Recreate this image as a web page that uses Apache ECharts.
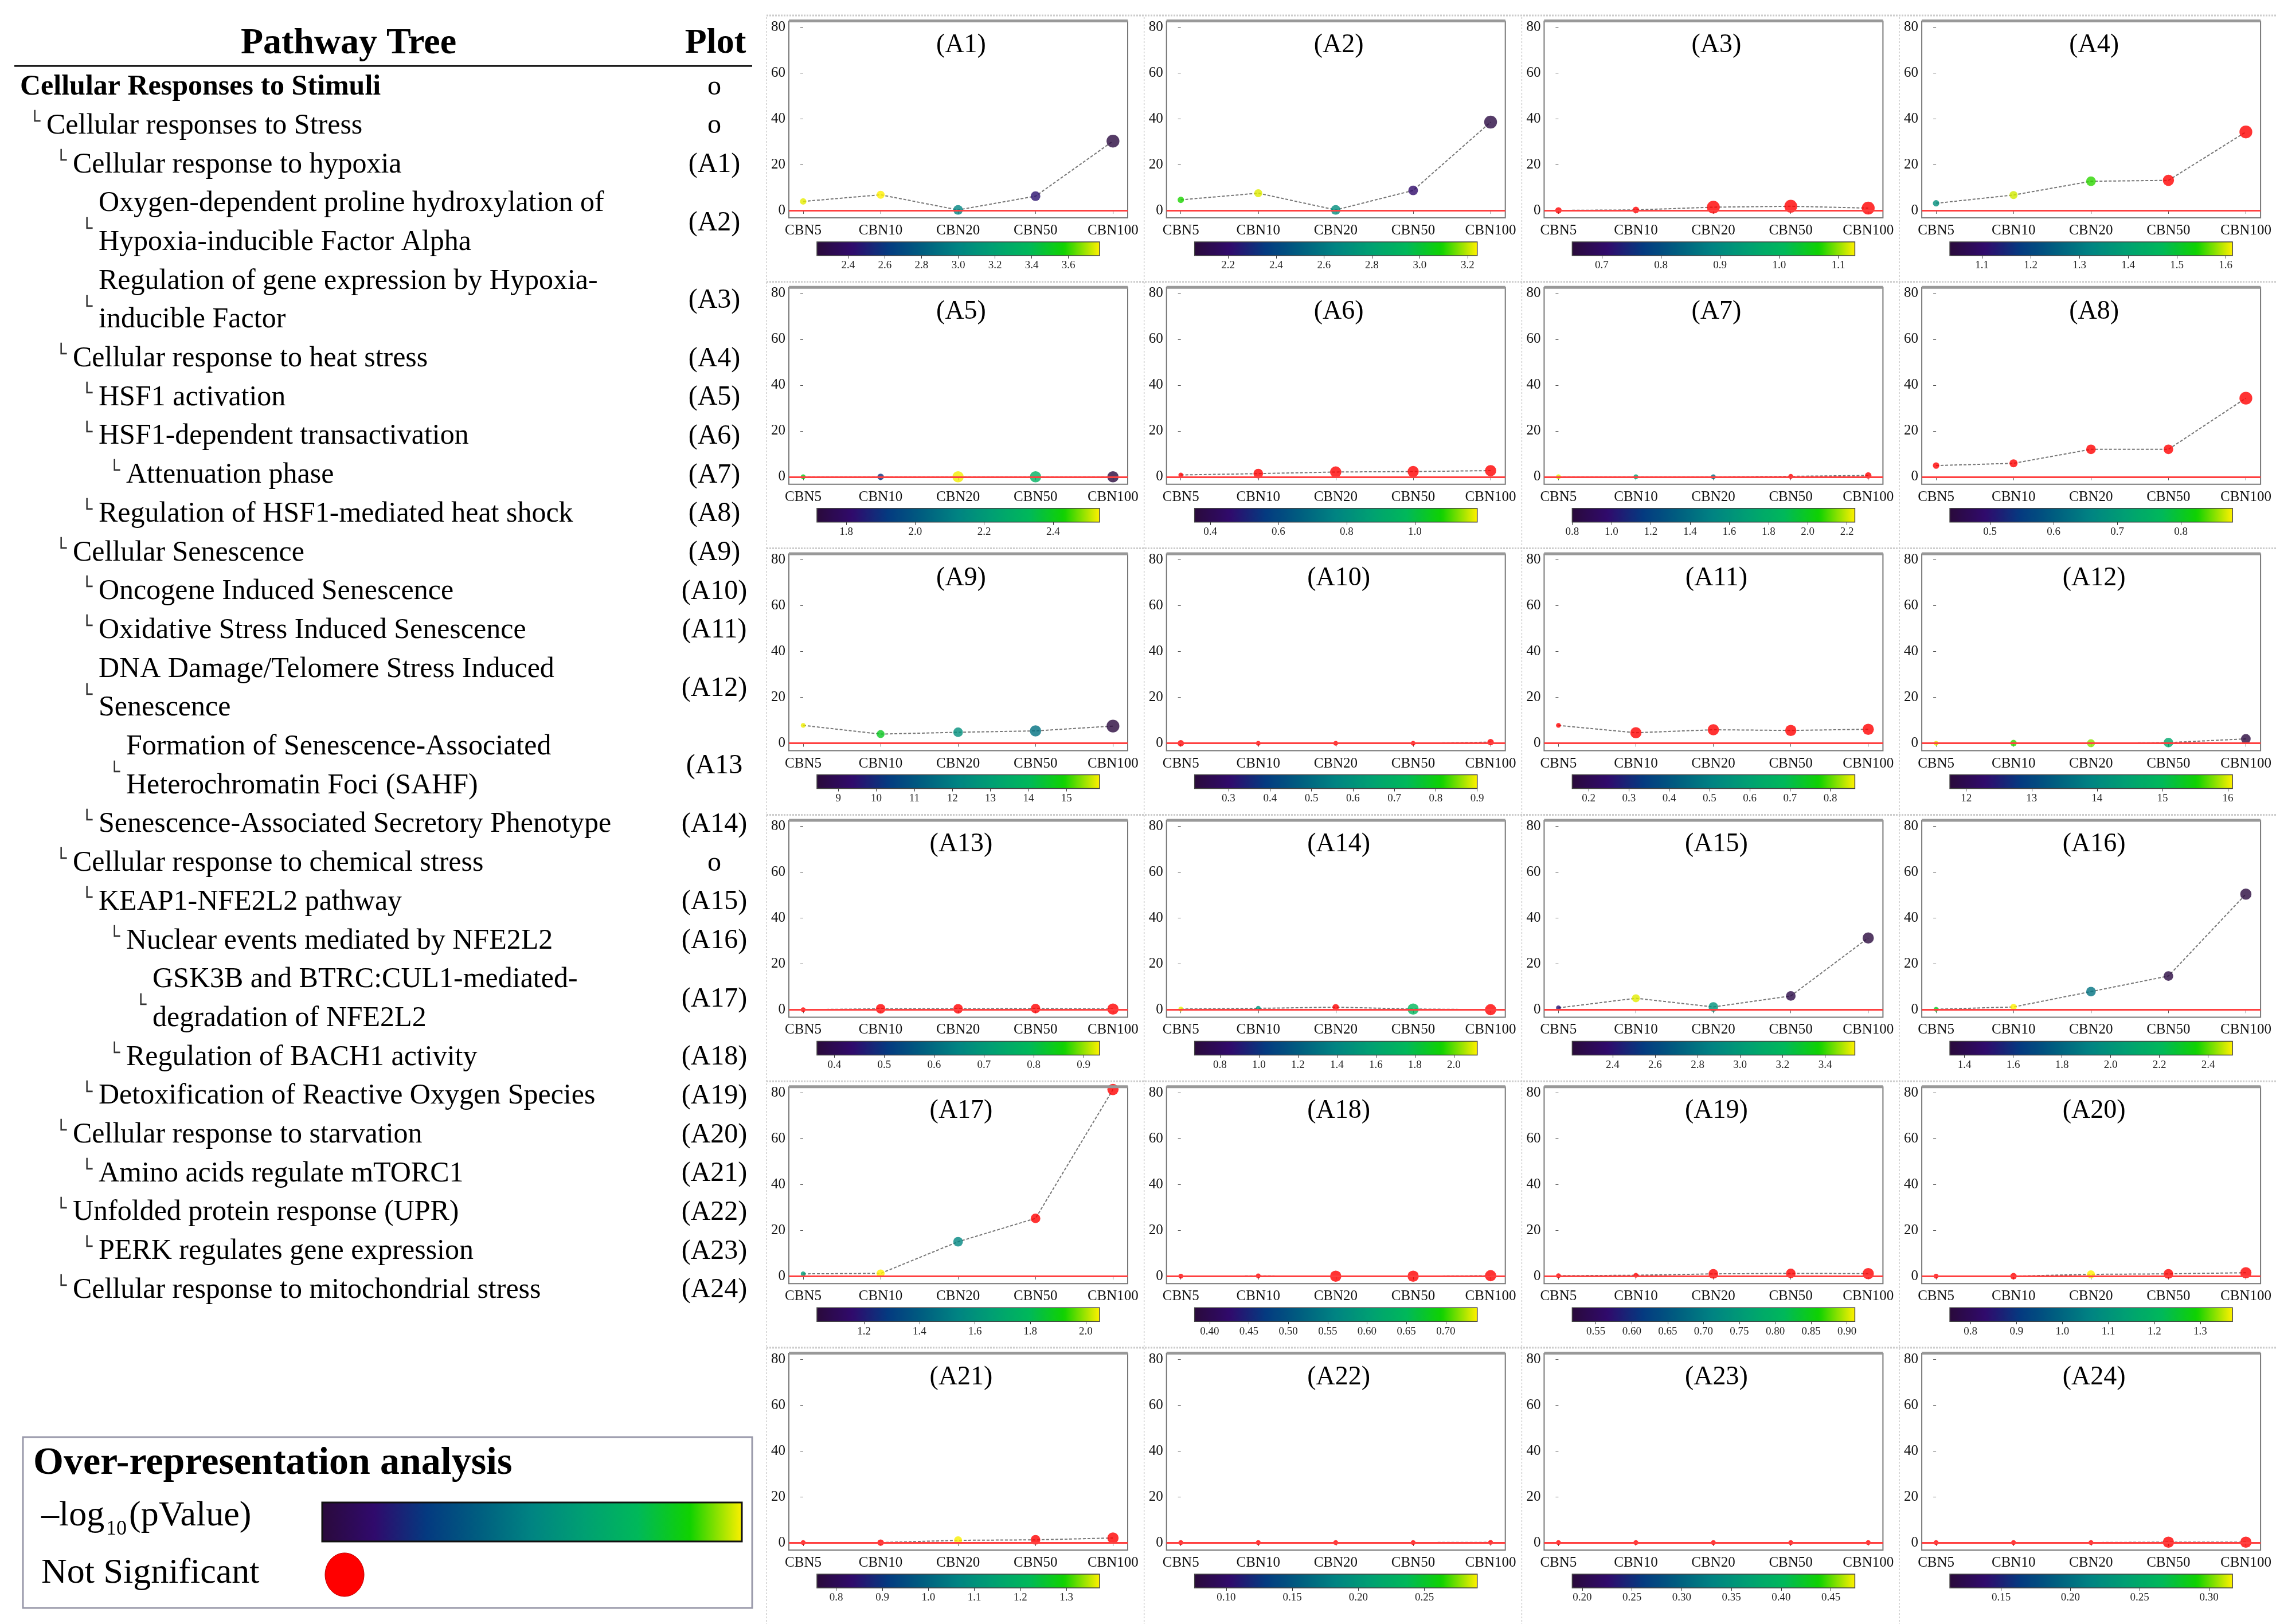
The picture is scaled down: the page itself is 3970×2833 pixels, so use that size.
<!DOCTYPE html>
<html><head><meta charset="utf-8">
<script src="https://cdn.jsdelivr.net/npm/echarts@6/dist/echarts.min.js"></script>
<style>html,body{margin:0;padding:0;background:#fff}#c{width:3970px;height:2833px}</style>
</head><body><div id="c"></div>
<script>
const categories = ['CBN5','CBN10','CBN20','CBN50','CBN100'];
const plotTitles = ['(A1)','(A2)','(A3)','(A4)','(A5)','(A6)','(A7)','(A8)','(A9)','(A10)','(A11)','(A12)',
  '(A13)','(A14)','(A15)','(A16)','(A17)','(A18)','(A19)','(A20)','(A21)','(A22)','(A23)','(A24)'];
const yTickValues = [0,20,40,60,80];
// y values per plot (CBN5..CBN100)
const yValues = [
  [3.9,6.8,0.2,6.2,30.2],[4.6,7.5,0.2,8.7,38.5],[0,0.2,1.4,1.8,1.0],[3.1,6.7,12.7,13.1,34.2],
  [0,0,0,0,0],[0.8,1.4,2.1,2.3,2.7],[0,0,0,0.2,0.6],[4.9,5.9,12,12,34.3],
  [7.8,4.0,4.8,5.4,7.5],[0,0,0,0,0.5],[7.8,4.6,5.9,5.6,6.1],[0,0.1,0,0.3,1.9],
  [0,0.4,0.4,0.5,0.3],[0.3,0.6,1.1,0.3,0],[0.8,5.0,1.2,6.0,31.3],[0.2,1.2,7.9,14.7,50.4],
  [1.0,1.2,15.0,25.2,81.4],[0,0.1,0,0,0.2],[0.2,0.4,1.0,1.2,1.1],[0,0,0.8,1.0,1.5],
  [0,0,1.0,1.2,2.0],[0,0,0,0,0.1],[0,0,0,0,0],[0,0,0,0.2,0.2]
];
// -log10(pValue) per point; null = not significant
const pValues = [
  [3.75,3.77,3.0,2.45,2.25],[3.1,3.22,2.7,2.2,2.08],[null,null,null,null,null],[1.35,1.6,1.55,null,null],
  [2.4,1.9,2.53,2.3,1.72],[null,null,null,null,null],[2.22,1.7,1.4,null,null],[null,null,null,null,null],
  [15.8,14.6,12.5,11.7,8.5],[null,null,null,null,null],[null,null,null,null,null],[16.0,15.6,15.8,14.6,11.8],
  [null,null,null,null,null],[2.1,1.5,null,1.75,null],[2.4,3.52,2.95,2.25,2.22],[2.3,2.5,1.85,1.36,1.35],
  [1.65,2.05,1.55,null,null],[null,null,null,null,null],[null,null,null,null,null],[null,null,1.37,null,null],
  [null,null,1.37,null,null],[null,null,null,null,null],[null,null,null,null,null],[null,null,null,null,null]
];
const pointSizes = [
  [8,10,12,12,16],[8,10,12,12,16],[8,8,16,16,16],[8,10,12,14,16],
  [6,8,14,14,14],[6,12,14,14,14],[6,6,6,6,8],[8,10,12,12,16],
  [6,10,12,14,16],[8,6,6,6,8],[6,14,14,14,14],[6,8,10,12,12],
  [6,12,12,12,14],[6,6,8,14,14],[6,10,12,12,14],[6,8,12,12,14],
  [6,10,12,12,14],[6,6,14,14,14],[6,6,12,12,14],[6,8,10,12,14],
  [6,8,10,12,14],[6,6,6,6,6],[6,6,6,6,6],[6,6,6,14,14]
];
const colorbarMin = [2.23,2.06,0.65,1.034,1.715,0.354,0.8,0.437,8.44,0.218,0.159,11.75,
  0.365,0.67,2.21,1.34,1.03,0.381,0.517,0.755,0.758,0.076,0.19,0.113];
const colorbarMax = [3.77,3.24,1.128,1.614,2.535,1.183,2.24,0.881,15.87,0.9,0.861,16.07,
  0.932,2.12,3.54,2.5,2.05,0.74,0.911,1.37,1.372,0.29,0.474,0.317];
const colorbarTicks = [
  [2.4,2.6,2.8,3.0,3.2,3.4,3.6],[2.2,2.4,2.6,2.8,3.0,3.2],[0.7,0.8,0.9,1.0,1.1],[1.1,1.2,1.3,1.4,1.5,1.6],
  [1.8,2.0,2.2,2.4],[0.4,0.6,0.8,1.0],[0.8,1.0,1.2,1.4,1.6,1.8,2.0,2.2],[0.5,0.6,0.7,0.8],
  [9,10,11,12,13,14,15],[0.3,0.4,0.5,0.6,0.7,0.8,0.9],[0.2,0.3,0.4,0.5,0.6,0.7,0.8],[12,13,14,15,16],
  [0.4,0.5,0.6,0.7,0.8,0.9],[0.8,1.0,1.2,1.4,1.6,1.8,2.0],[2.4,2.6,2.8,3.0,3.2,3.4],[1.4,1.6,1.8,2.0,2.2,2.4],
  [1.2,1.4,1.6,1.8,2.0],[0.40,0.45,0.50,0.55,0.60,0.65,0.70],[0.55,0.60,0.65,0.70,0.75,0.80,0.85,0.90],[0.8,0.9,1.0,1.1,1.2,1.3],
  [0.8,0.9,1.0,1.1,1.2,1.3],[0.10,0.15,0.20,0.25],[0.20,0.25,0.30,0.35,0.40,0.45],[0.15,0.20,0.25,0.30]
];
const colorbarDecimals = [1,1,1,1,1,1,1,1,0,1,1,0,1,1,1,1,1,2,2,1,1,2,2,2];
const treeLabels = [
  ['Cellular Responses to Stimuli'],['Cellular responses to Stress'],['Cellular response to hypoxia'],
  ['Oxygen-dependent proline hydroxylation of','Hypoxia-inducible Factor Alpha'],
  ['Regulation of gene expression by Hypoxia-','inducible Factor'],
  ['Cellular response to heat stress'],['HSF1 activation'],['HSF1-dependent transactivation'],['Attenuation phase'],
  ['Regulation of HSF1-mediated heat shock'],['Cellular Senescence'],['Oncogene Induced Senescence'],
  ['Oxidative Stress Induced Senescence'],['DNA Damage/Telomere Stress Induced','Senescence'],
  ['Formation of Senescence-Associated','Heterochromatin Foci (SAHF)'],['Senescence-Associated Secretory Phenotype'],
  ['Cellular response to chemical stress'],['KEAP1-NFE2L2 pathway'],['Nuclear events mediated by NFE2L2'],
  ['GSK3B and BTRC:CUL1-mediated-','degradation of NFE2L2'],['Regulation of BACH1 activity'],
  ['Detoxification of Reactive Oxygen Species'],['Cellular response to starvation'],['Amino acids regulate mTORC1'],
  ['Unfolded protein response (UPR)'],['PERK regulates gene expression'],['Cellular response to mitochondrial stress']
];
const treeLevels = [0,1,2,3,3,2,3,3,4,3,2,3,3,3,4,3,2,3,4,5,4,3,2,3,2,3,2];
const treePlots = ['o','o','(A1)','(A2)','(A3)','(A4)','(A5)','(A6)','(A7)','(A8)','(A9)','(A10)','(A11)','(A12)','(A13',
  '(A14)','o','(A15)','(A16)','(A17)','(A18)','(A19)','(A20)','(A21)','(A22)','(A23)','(A24)'];

const FONT = '"Liberation Serif","DejaVu Serif",serif';
const cmap = ['#2a0a3b','#300a6c','#043a80','#005e80','#008482','#00a072','#00b85a','#10d200','#fff000'];
const chart = echarts.init(document.getElementById('c'));
const grids=[],xAxes=[],yAxes=[],series=[],visualMaps=[],titles=[],graphics=[];
const GL=1376, GT=37, CW=658.7, RH=464.8, GW=591, GH=343;
for(let i=0;i<24;i++){
  const r=Math.floor(i/4), c=i%4;
  const left=GL+c*CW, top=GT+r*RH;
  grids.push({left:left,top:top,width:GW,height:GH,show:true,borderColor:'#777',borderWidth:2,backgroundColor:'#fff'});
  const gi=grids.length-1;
  xAxes.push({gridIndex:gi,type:'value',min:-0.185,max:4.19,splitLine:{show:false},
    axisLine:{show:false},axisTick:{show:true,customValues:[0,1,2,3,4],length:6,lineStyle:{color:'#555'}},
    axisLabel:{customValues:[0,1,2,3,4],formatter:v=>categories[Math.round(v)],fontFamily:FONT,fontSize:25,color:'#111',margin:10}});
  yAxes.push({gridIndex:gi,type:'value',min:-3.25,max:82.5,splitLine:{show:false},
    axisLine:{show:false},axisTick:{show:true,customValues:yTickValues,length:5,lineStyle:{color:'#555'}},
    axisLabel:{customValues:yTickValues,fontFamily:FONT,fontSize:25,color:'#111',margin:6}});
  const xi=xAxes.length-1, yi=yAxes.length-1;
  series.push({type:'line',xAxisIndex:xi,yAxisIndex:yi,data:yValues[i].map((v,k)=>[k,v]),symbol:'none',
    lineStyle:{color:'#777',width:2,type:[5,3]},z:2,
    markLine:{silent:true,symbol:'none',label:{show:false},lineStyle:{color:'#ff4040',width:3,type:'solid'},data:[{yAxis:0}]}});
  const sig=[],ns=[];
  yValues[i].forEach((v,k)=>{ if(pValues[i][k]==null) ns.push([k,v,pointSizes[i][k]]); else sig.push([k,v,pValues[i][k],pointSizes[i][k]]); });
  series.push({type:'scatter',xAxisIndex:xi,yAxisIndex:yi,data:sig,symbolSize:d=>d[3]*1.4,z:4});
  const sigIdx=series.length-1;
  series.push({type:'scatter',xAxisIndex:xi,yAxisIndex:yi,data:ns,symbolSize:d=>d[2]*1.4,itemStyle:{color:'#ff0000'},z:4});
  visualMaps.push({type:'continuous',seriesIndex:sigIdx,dimension:2,min:colorbarMin[i],max:colorbarMax[i],
    orient:'horizontal',left:left+49,top:top+385,itemWidth:24,itemHeight:493,calculable:false,text:['',''],
    textGap:0,padding:0,inRange:{color:cmap},hoverLink:false});
  grids.push({left:left+49,top:top+385,width:493,height:24,show:false});
  const g2=grids.length-1;
  xAxes.push({gridIndex:g2,type:'value',min:colorbarMin[i],max:colorbarMax[i],splitLine:{show:false},
    axisLine:{show:false},axisTick:{show:true,customValues:colorbarTicks[i],length:5,lineStyle:{color:'#333'}},
    axisLabel:{customValues:colorbarTicks[i],formatter:(d=>v=>v.toFixed(d))(colorbarDecimals[i]),fontFamily:FONT,fontSize:19,color:'#222',margin:8}});
  yAxes.push({gridIndex:g2,type:'value',show:false});
  titles.push({text:plotTitles[i],left:left+GW/2,top:top+14,textAlign:'center',
    textStyle:{fontFamily:FONT,fontSize:46,fontWeight:'normal',color:'#000'}});
  graphics.push({type:'rect',shape:{x:left,y:top-3,width:GW,height:5},style:{fill:'#999'},z:10});
  graphics.push({type:'rect',shape:{x:left+49,y:top+385,width:493,height:24},style:{fill:'none',stroke:'#444',lineWidth:1.5},z:10});
}
for(let c=0;c<4;c++){ graphics.push({type:'line',shape:{x1:1337+c*CW,y1:30,x2:1337+c*CW,y2:2833},style:{stroke:'#ccc',lineWidth:1.5,lineDash:[3,3]}}); }
for(let r=0;r<6;r++){ graphics.push({type:'line',shape:{x1:1337,y1:27+r*RH,x2:3970,y2:27+r*RH},style:{stroke:'#ccc',lineWidth:3,lineDash:[3,2]}}); }
const levelX=[35,81,127,172,220,266];
graphics.push({type:'text',style:{text:'Pathway Tree',x:608,y:76,align:'center',verticalAlign:'middle',font:'bold 64px '+FONT,fill:'#000'}});
graphics.push({type:'text',style:{text:'Plot',x:1248,y:76,align:'center',verticalAlign:'middle',font:'bold 62px '+FONT,fill:'#000'}});
graphics.push({type:'line',shape:{x1:25,y1:115,x2:1312,y2:115},style:{stroke:'#000',lineWidth:3}});
let line=0;
treeLabels.forEach((lab,j)=>{
  const lv=treeLevels[j], n=lab.length;
  const y0=152+line*67.7;
  lab.forEach((t,k)=>{
    graphics.push({type:'text',style:{text:t,x:levelX[lv],y:y0+k*67.7,verticalAlign:'middle',
      font:(j===0?'bold ':'')+'50px '+FONT,fill:'#000'}});
  });
  const midY=y0+(n-1)*67.7/2;
  if(lv>0) graphics.push({type:'text',style:{text:'└',x:levelX[lv]-30,y:(n>1?midY+12:y0-6),verticalAlign:'middle',font:'32px "DejaVu Sans"',fill:'#333'}});
  graphics.push({type:'text',style:{text:treePlots[j],x:1246,y:midY,align:'center',verticalAlign:'middle',font:'48px '+FONT,fill:'#000'}});
  line+=n;
});
graphics.push({type:'rect',shape:{x:40,y:2507,width:1272,height:298},style:{fill:'#fff',stroke:'#99a',lineWidth:3}});
graphics.push({type:'text',style:{text:'Over-representation analysis',x:58,y:2553,verticalAlign:'middle',font:'bold 68px '+FONT,fill:'#000'}});
graphics.push({type:'text',style:{text:'\u2013log',x:72,y:2645,verticalAlign:'middle',font:'62px '+FONT,fill:'#000'}});
graphics.push({type:'text',style:{text:'10',x:185,y:2668,verticalAlign:'middle',font:'36px '+FONT,fill:'#000'}});
graphics.push({type:'text',style:{text:'(pValue)',x:225,y:2645,verticalAlign:'middle',font:'62px '+FONT,fill:'#000'}});
graphics.push({type:'rect',shape:{x:562,y:2621,width:732,height:68},style:{stroke:'#111',lineWidth:3,
  fill:{type:'linear',x:0,y:0,x2:1,y2:0,colorStops:cmap.map((c,k)=>({offset:k/(cmap.length-1),color:c}))}}});
graphics.push({type:'text',style:{text:'Not Significant',x:72,y:2745,verticalAlign:'middle',font:'62px '+FONT,fill:'#000'}});
graphics.push({type:'ellipse',shape:{cx:601,cy:2747,rx:34,ry:38},style:{fill:'#ff0000',stroke:'#b00',lineWidth:1}});

chart.setOption({animation:false,backgroundColor:'#fff',title:titles,grid:grids,xAxis:xAxes,yAxis:yAxes,
  visualMap:visualMaps,series:series,graphic:{elements:graphics}});
</script></body></html>
